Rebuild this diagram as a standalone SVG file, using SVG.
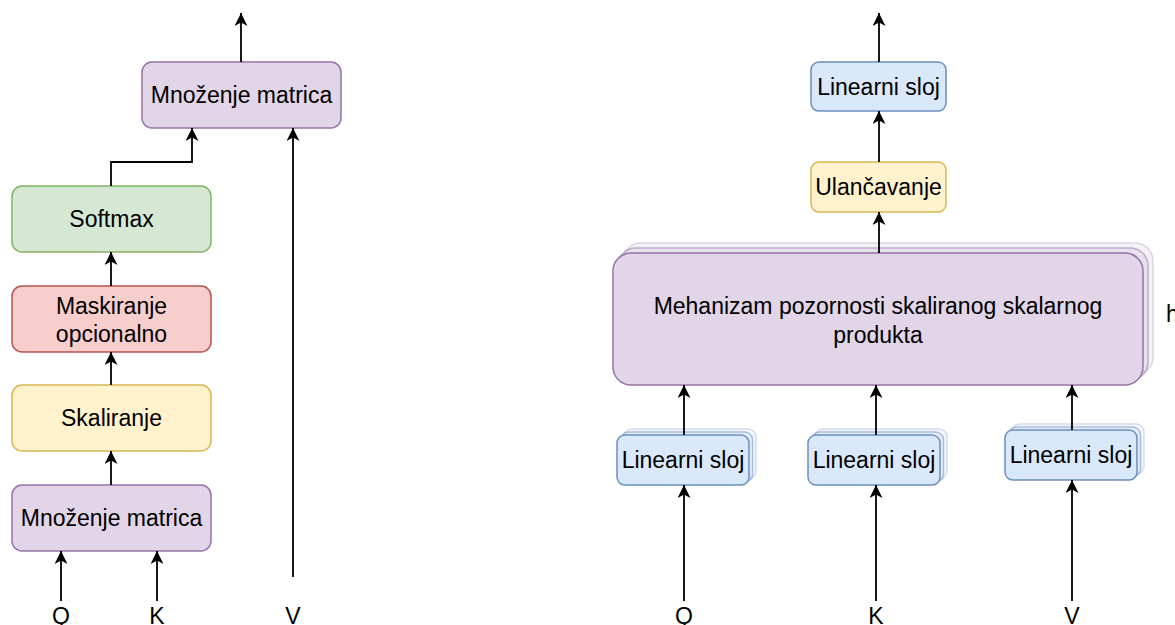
<svg xmlns="http://www.w3.org/2000/svg" width="1175" height="625" viewBox="0 0 1175 625">
  <style>
    text { font-family: "Liberation Sans", Arial, Helvetica, sans-serif; font-size: 23px; fill: #000; text-anchor: middle; }
    .purple { fill: #e1d5e7; stroke: #9673a6; stroke-width: 1.5; }
    .green { fill: #d5e8d4; stroke: #82b366; stroke-width: 1.5; }
    .red { fill: #f8cecc; stroke: #b85450; stroke-width: 1.5; }
    .yellow { fill: #fff2cc; stroke: #d6b656; stroke-width: 1.5; }
    .blue { fill: #dae8fc; stroke: #6c8ebf; stroke-width: 1.5; }
    .back1 { opacity: 0.55; }
    .back2 { opacity: 0.3; }
    .edge { fill: none; stroke: #000; stroke-width: 1.8; marker-end: url(#arrow); }
  </style>
  <defs>
    <marker id="arrow" markerUnits="userSpaceOnUse" markerWidth="14" markerHeight="13" refX="13" refY="6.5" orient="auto">
      <path d="M0,0 L13,6.5 L0,13 L3.5,6.5 Z" fill="#000"/>
    </marker>
  </defs>

  <!-- Scaled dot-product attention (left) -->
  <g id="matmul-top">
    <rect class="purple" x="142" y="62" width="199" height="66" rx="10"/>
    <text x="241.5" y="103">Množenje matrica</text>
  </g>
  <g id="softmax">
    <rect class="green" x="12" y="186" width="199" height="66" rx="10"/>
    <text x="111.5" y="227">Softmax</text>
  </g>
  <g id="mask">
    <rect class="red" x="12" y="286" width="199" height="66" rx="10"/>
    <text x="111.5" y="314">Maskiranje</text>
    <text x="111.5" y="342">opcionalno</text>
  </g>
  <g id="scale">
    <rect class="yellow" x="12" y="385" width="199" height="66" rx="10"/>
    <text x="111.5" y="426">Skaliranje</text>
  </g>
  <g id="matmul-bottom">
    <rect class="purple" x="12" y="485" width="199" height="66" rx="10"/>
    <text x="111.5" y="526">Množenje matrica</text>
  </g>
  <g id="labels-left">
    <text x="61" y="624">Q</text>
    <text x="157" y="624">K</text>
    <text x="293" y="624">V</text>
  </g>

  <!-- Multi-head attention (right) -->
  <g id="linear-out">
    <rect class="blue" x="811" y="62" width="135" height="49" rx="8"/>
    <text x="878.5" y="95">Linearni sloj</text>
  </g>
  <g id="concat">
    <rect class="yellow" x="811" y="162" width="135" height="50" rx="8"/>
    <text x="878.5" y="195">Ulančavanje</text>
  </g>
  <g id="attention-heads">
    <rect class="purple back2" x="623" y="243" width="530" height="132" rx="18"/>
    <rect class="purple back1" x="618" y="248" width="530" height="132" rx="18"/>
    <rect class="purple" x="613" y="253" width="530" height="132" rx="18"/>
    <text x="878" y="314">Mehanizam pozornosti skaliranog skalarnog</text>
    <text x="878" y="343">produkta</text>
  </g>
  <g id="heads-label">
    <text x="1166" y="322" style="text-anchor:start">h</text>
  </g>
  <g id="linear-q">
    <rect class="blue back2" x="624" y="429" width="132" height="50" rx="8"/>
    <rect class="blue back1" x="620.5" y="432" width="132" height="50" rx="8"/>
    <rect class="blue" x="617" y="435" width="132" height="50" rx="8"/>
    <text x="683" y="468">Linearni sloj</text>
  </g>
  <g id="linear-k">
    <rect class="blue back2" x="815" y="429" width="132" height="50" rx="8"/>
    <rect class="blue back1" x="811.5" y="432" width="132" height="50" rx="8"/>
    <rect class="blue" x="808" y="435" width="132" height="50" rx="8"/>
    <text x="874" y="468">Linearni sloj</text>
  </g>
  <g id="linear-v">
    <rect class="blue back2" x="1012" y="424" width="132" height="50" rx="8"/>
    <rect class="blue back1" x="1008.5" y="427" width="132" height="50" rx="8"/>
    <rect class="blue" x="1005" y="430" width="132" height="50" rx="8"/>
    <text x="1071" y="463">Linearni sloj</text>
  </g>
  <g id="labels-right">
    <text x="684" y="624">Q</text>
    <text x="876" y="624">K</text>
    <text x="1072" y="624">V</text>
  </g>

  <!-- Connectors -->
  <g id="connectors">
    <line class="edge" x1="241" y1="62" x2="241" y2="13"/>
    <polyline class="edge" points="111,186 111,162 192,162 192,128"/>
    <line class="edge" x1="293" y1="577" x2="293" y2="128"/>
    <line class="edge" x1="111" y1="286" x2="111" y2="252"/>
    <line class="edge" x1="111" y1="385" x2="111" y2="352"/>
    <line class="edge" x1="111" y1="485" x2="111" y2="451"/>
    <line class="edge" x1="61" y1="601" x2="61" y2="551"/>
    <line class="edge" x1="157" y1="601" x2="157" y2="551"/>

    <line class="edge" x1="879" y1="62" x2="879" y2="13"/>
    <line class="edge" x1="879" y1="162" x2="879" y2="111"/>
    <line class="edge" x1="879" y1="253" x2="879" y2="212"/>
    <line class="edge" x1="684" y1="435" x2="684" y2="385"/>
    <line class="edge" x1="876" y1="435" x2="876" y2="385"/>
    <line class="edge" x1="1072" y1="430" x2="1072" y2="385"/>
    <line class="edge" x1="684" y1="601" x2="684" y2="485"/>
    <line class="edge" x1="876" y1="601" x2="876" y2="485"/>
    <line class="edge" x1="1072" y1="601" x2="1072" y2="480"/>
  </g>
</svg>
